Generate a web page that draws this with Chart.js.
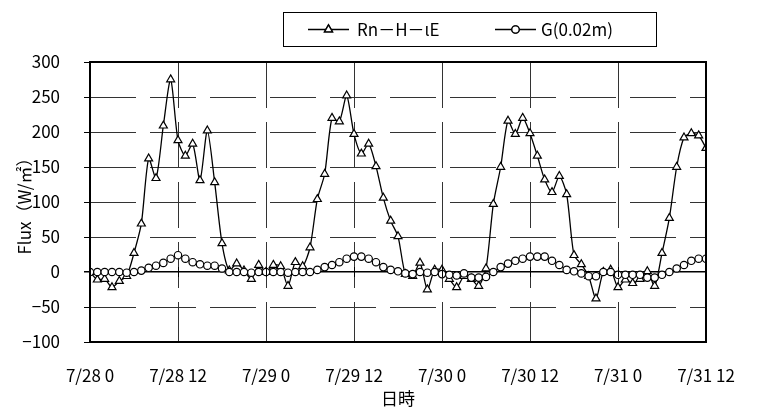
<!DOCTYPE html>
<html lang="ja">
<head>
<meta charset="UTF-8">
<title>Flux</title>
<script src="https://cdn.jsdelivr.net/npm/chart.js"></script>
<style>
  html, body { margin: 0; padding: 0; background: #fff; }
  #wrap { width: 758px; height: 413px; }
</style>
</head>
<body>
<div id="wrap"><canvas id="fluxChart"></canvas></div>
<script>
// hours since 7/28 0:00
const hours = [0,1,2,3,4,5,6,7,8,9,10,11,12,13,14,15,16,17,18,19,20,21,22,23,
  24,25,26,27,28,29,30,31,32,33,34,35,36,37,38,39,40,41,42,43,44,45,46,47,
  48,49,50,51,52,53,54,55,56,57,58,59,60,61,62,63,64,65,66,67,68,69,70,71,
  72,73,74,75,76,77,78,79,80,81,82,83,84];

// Rn - H - lE  (W/m2)
const residual = [0,-11,-10,-22,-13,-6,27,69,162,134,209,275,188,166,183,131,202,128,41,2,12,2,-10,10,
  0,10,8,-20,14,8,35,104,140,220,215,252,197,169,183,151,106,73,51,-3,-6,13,-25,3,
  3,-10,-22,-6,-10,-20,5,97,150,216,197,220,198,166,132,114,137,111,24,11,-6,-38,0,3,
  -22,-11,-16,-10,1,-20,27,77,150,192,198,195,177];

// G at 0.02 m (W/m2)
const soilG = [0,0,0,0,0,-1,0,2,6,9,13,19,24,19,14,11,9,9,5,0,0,0,-1,0,
  0,0,0,-1,0,0,0,3,7,10,14,19,22,22,19,14,7,3,1,-2,-3,0,-1,0,
  -3,-4,-5,-2,-8,-8,-7,0,7,12,16,19,22,22,22,16,10,3,1,-2,-6,-6,0,0,
  -4,-4,-4,-4,-8,-8,-4,0,5,10,16,19,19];

const xTickLabels = ['7/28 0','7/28 12','7/29 0','7/29 12','7/30 0','7/30 12','7/31 0','7/31 12'];
const seriesNames = ['Rn－H－ιE', 'G(0.02m)'];

const FONT = '"Noto Sans CJK JP", "Noto Sans", sans-serif';
const FS = 17;
Chart.defaults.font.family = FONT;
Chart.defaults.font.size = FS;
Chart.defaults.color = '#000';

const pts = vals => hours.map((h, i) => ({ x: h, y: vals[i] }));
const GRID_DASH = [46, 14];

// frame, zero-line ticks, boxed legend
const extras = {
  id: 'extras',
  afterDatasetsDraw(chart) {
    const { ctx, chartArea: a, scales } = chart;
    const y0 = scales.y.getPixelForValue(0);
    ctx.save();
    ctx.strokeStyle = '#000';
    ctx.lineWidth = 1;
    scales.x.ticks.forEach(t => {
      const x = Math.round(scales.x.getPixelForValue(t.value)) + 0.5;
      ctx.beginPath();
      ctx.moveTo(x, y0 - 5);
      ctx.lineTo(x, y0 + 5);
      ctx.stroke();
    });
    ctx.lineWidth = 2;
    ctx.strokeRect(a.left, a.top, a.right - a.left, a.bottom - a.top);
    ctx.restore();
  },
  afterDraw(chart) {
    const ctx = chart.ctx;
    const ds = chart.data.datasets;
    ctx.save();
    ctx.strokeStyle = '#000';
    ctx.lineWidth = 1;
    ctx.strokeRect(283.5, 12.5, 373, 34);
    const cy = 29.5;
    const items = [{ x: 308, text: 357 }, { x: 495, text: 541 }];
    ctx.font = FS + 'px ' + FONT;
    ctx.textBaseline = 'middle';
    ctx.fillStyle = '#000';
    items.forEach((it, i) => {
      const d = ds[i];
      ctx.lineWidth = 1.3;
      ctx.beginPath();
      ctx.moveTo(it.x, cy);
      ctx.lineTo(it.x + 41, cy);
      ctx.stroke();
      Chart.helpers.drawPoint(ctx, {
        pointStyle: d.pointStyle, radius: d.pointRadius, borderWidth: d.pointBorderWidth
      }, it.x + 20.5, cy);
      ctx.fillStyle = '#fff';
      ctx.fill();
      ctx.stroke();
      ctx.fillStyle = '#000';
      ctx.fillText(d.label, it.text, cy);
    });
    ctx.restore();
  }
};

new Chart(document.getElementById('fluxChart'), {
  type: 'line',
  data: {
    datasets: [
      {
        label: seriesNames[0],
        data: pts(residual),
        borderColor: '#000',
        borderWidth: 1.3,
        pointStyle: 'triangle',
        pointRadius: 4.6,
        pointBorderWidth: 1.2,
        pointBackgroundColor: '#fff',
        pointBorderColor: '#000',
        tension: 0.25,
        order: 2
      },
      {
        label: seriesNames[1],
        data: pts(soilG),
        borderColor: '#000',
        borderWidth: 1.3,
        pointStyle: 'circle',
        pointRadius: 3.7,
        pointBorderWidth: 1.2,
        pointBackgroundColor: '#fff',
        pointBorderColor: '#000',
        tension: 0.25,
        order: 1
      }
    ]
  },
  options: {
    responsive: true,
    maintainAspectRatio: false,
    animation: false,
    layout: { padding: { top: 62, right: 52, bottom: 0, left: 0 } },
    plugins: {
      legend: { display: false },
      tooltip: { enabled: false }
    },
    scales: {
      x: {
        type: 'linear',
        min: 0,
        max: 84,
        afterFit: s => { s.height = 71; },
        ticks: {
          stepSize: 12,
          padding: 23,
          maxRotation: 0,
          autoSkip: false,
          callback: v => xTickLabels[v / 12]
        },
        grid: { color: '#333', lineWidth: 1, drawTicks: false },
        border: { display: false, dash: GRID_DASH },
        title: { display: true, text: '日時', padding: { top: 0, bottom: 4 } }
      },
      y: {
        min: -100,
        max: 300,
        afterFit: s => { s.width = 90; },
        ticks: {
          stepSize: 50,
          padding: 24,
          callback: v => (v < 0 ? '−' + Math.abs(v) : String(v))
        },
        grid: {
          color: c => (c.tick && c.tick.value === 0 ? '#000' : '#333'),
          lineWidth: c => (c.tick && c.tick.value === 0 ? 1.5 : 1),
          drawTicks: true,
          tickLength: 6,
          tickColor: '#000'
        },
        border: {
          display: false,
          dash: c => (c.tick && c.tick.value === 0 ? [] : GRID_DASH)
        },
        title: { display: true, text: 'Flux（W/㎡）', padding: { top: 14, bottom: 0 } }
      }
    }
  },
  plugins: [extras]
});
</script>
</body>
</html>
